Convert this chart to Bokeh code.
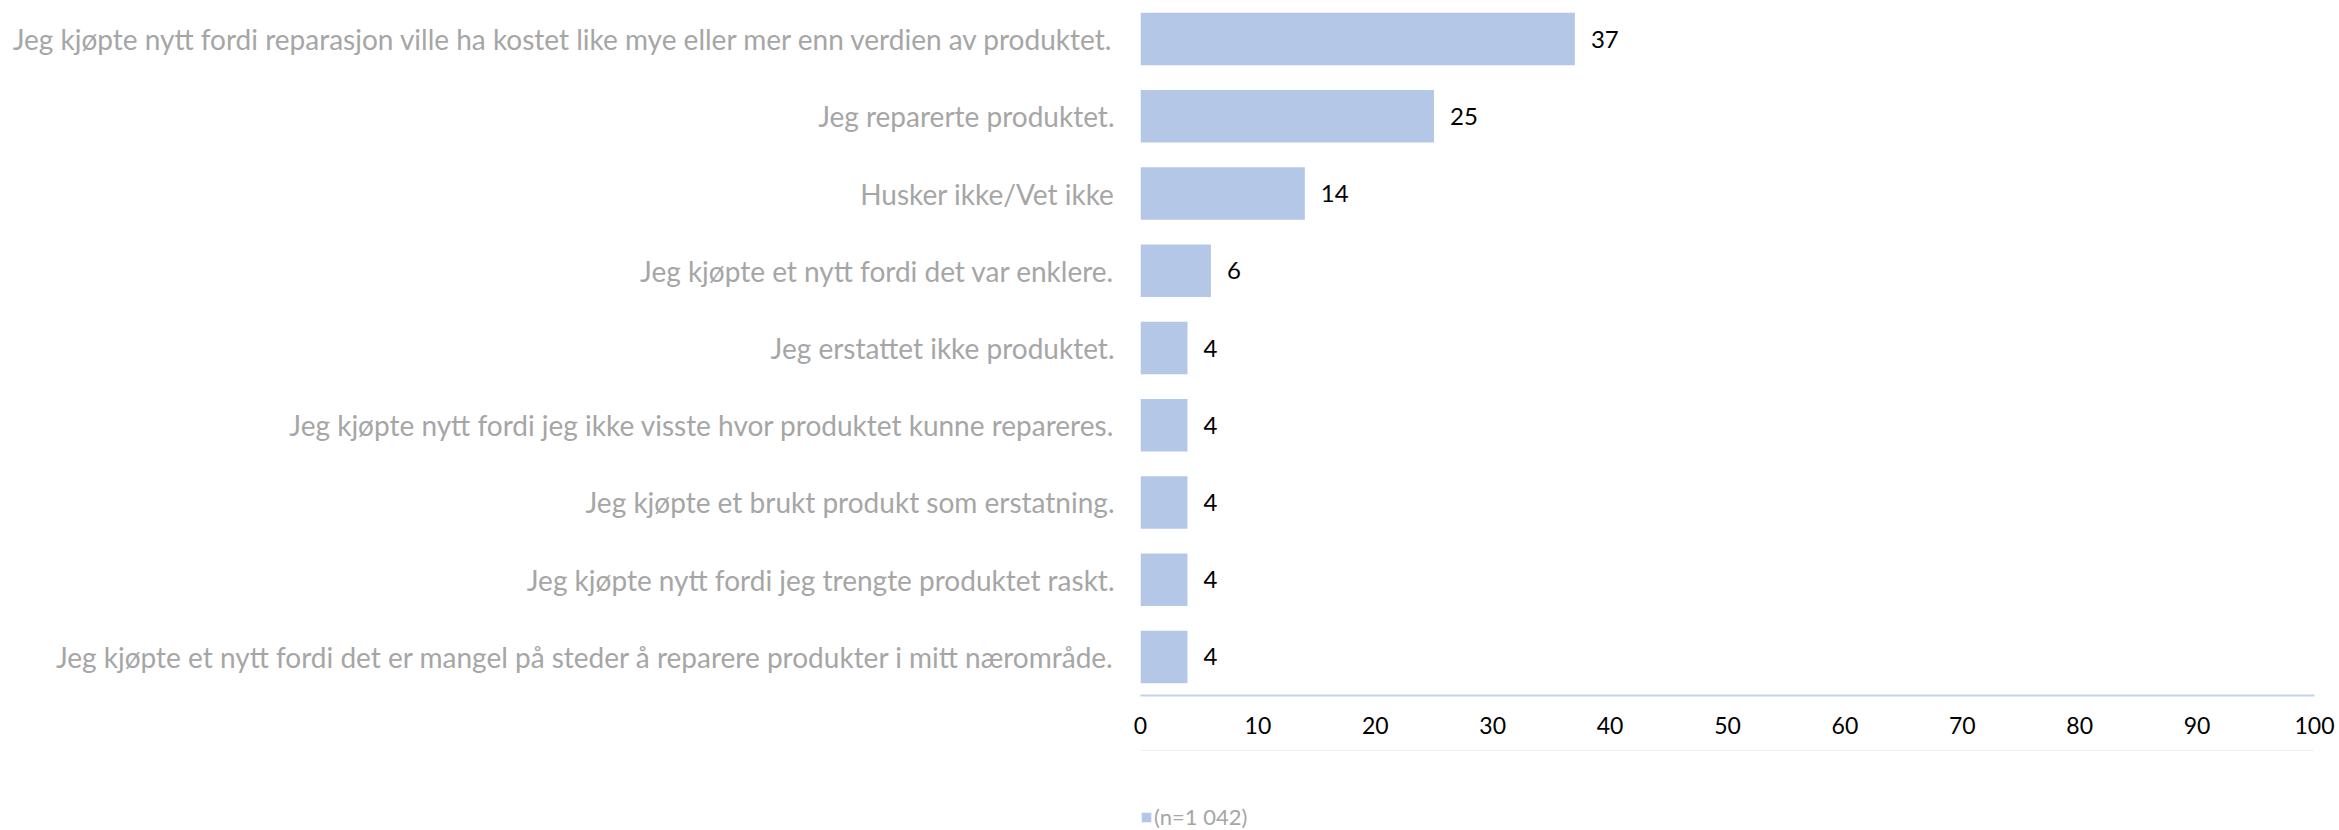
from bokeh.plotting import figure
from bokeh.layouts import column
from bokeh.models import ColumnDataSource, FactorRange, Range1d, Legend, LegendItem, LabelSet, FixedTicker
from bokeh.core.properties import value
from bokeh.embed import file_html
from bokeh.resources import INLINE

categories = [
    "Jeg kjøpte nytt fordi reparasjon ville ha kostet like mye eller mer enn verdien av produktet.",
    "Jeg reparerte produktet.",
    "Husker ikke/Vet ikke",
    "Jeg kjøpte et nytt fordi det var enklere.",
    "Jeg erstattet ikke produktet.",
    "Jeg kjøpte nytt fordi jeg ikke visste hvor produktet kunne repareres.",
    "Jeg kjøpte et brukt produkt som erstatning.",
    "Jeg kjøpte nytt fordi jeg trengte produktet raskt.",
    "Jeg kjøpte et nytt fordi det er mangel på steder å reparere produkter i mitt nærområde.",
]
values = [37, 25, 14, 6, 4, 4, 4, 4, 4]
x_ticks = [0, 10, 20, 30, 40, 50, 60, 70, 80, 90, 100]
series_name = "(n=1 042)"

FONT = "Lato"
BAR = "#b4c7e7"

source = ColumnDataSource(dict(cat=categories, val=values, lab=[str(v) for v in values]))

p = figure(
    width=2339, height=750,
    y_range=FactorRange(*list(reversed(categories)), range_padding=0),
    x_range=Range1d(0, 100),
    output_backend="svg", toolbar_location=None,
    min_border_left=1140, min_border_right=25, min_border_top=0, min_border_bottom=55,
)
p.outline_line_color = None
p.background_fill_color = "white"
p.border_fill_color = "white"

r = p.hbar(y="cat", right="val", left=0, height=0.68, source=source,
           fill_color=BAR, line_color=None)

labels = LabelSet(x="val", y="cat", text="lab", source=source, x_offset=16,
                  text_baseline="middle", text_align="left",
                  text_font=value(FONT), text_font_size="24px", text_color="#000000")
p.add_layout(labels)

p.xgrid.grid_line_color = None
p.ygrid.grid_line_color = None

p.xaxis.ticker = FixedTicker(ticks=x_ticks)
p.xaxis.axis_line_color = "#c5d3ea"
p.xaxis.axis_line_width = 2
p.xaxis.major_tick_line_color = None
p.xaxis.minor_tick_line_color = None
p.xaxis.major_label_text_font = FONT
p.xaxis.major_label_text_font_size = "23px"
p.xaxis.major_label_text_color = "#000000"
p.xaxis.major_label_standoff = 15

p.yaxis.axis_line_color = None
p.yaxis.major_tick_line_color = None
p.yaxis.minor_tick_line_color = None
p.yaxis.major_label_text_font = FONT
p.yaxis.major_label_text_font_size = "28px"
p.yaxis.major_label_text_color = "#a6a6a6"
p.yaxis.major_label_standoff = 20

# legend strip below the chart (proxy glyph kept outside the visible range)
p2 = figure(width=2339, height=80, x_range=Range1d(0, 1), y_range=Range1d(0, 1),
            output_backend="svg", toolbar_location=None, min_border=0)
p2.axis.visible = False
p2.grid.grid_line_color = None
p2.outline_line_color = None
r2 = p2.hbar(y=[5], right=[1], left=0, height=0.5, fill_color=BAR, line_color=None)
legend = Legend(items=[LegendItem(label=series_name, renderers=[r2])],
                location=(0, 0), orientation="horizontal",
                label_text_font=FONT, label_text_font_size="22px",
                label_text_color="#a6a6a6",
                glyph_width=12, glyph_height=12, label_standoff=2,
                padding=0, margin=0, spacing=0,
                border_line_color=None, background_fill_alpha=0)
p2.add_layout(legend, "center")

layout = column(p, p2, spacing=0)
open("out.html", "w").write(file_html(layout, INLINE))
